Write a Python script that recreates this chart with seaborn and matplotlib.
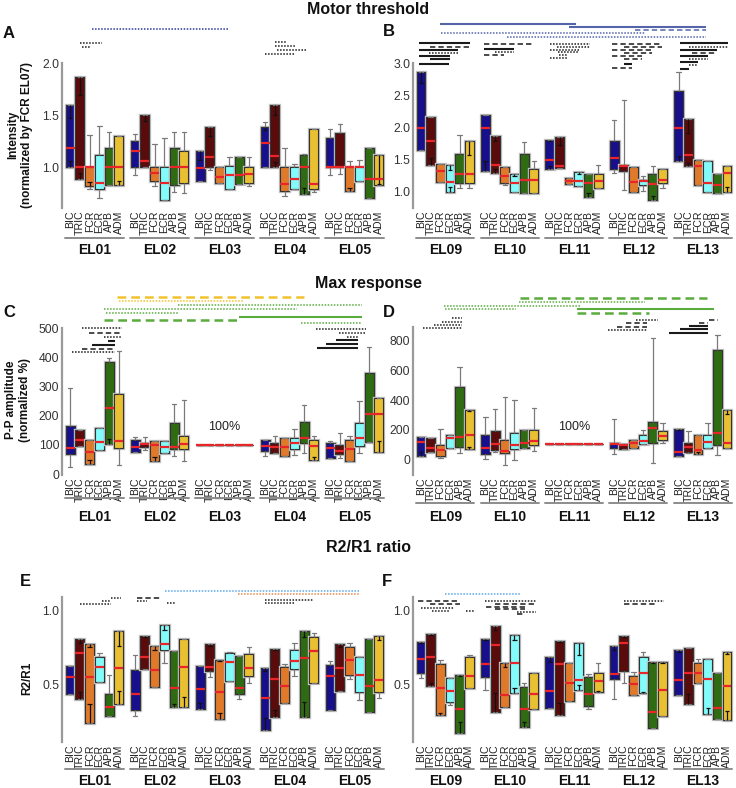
import numpy as np
import pandas as pd
import matplotlib.pyplot as plt
import matplotlib.patheffects as pe
import seaborn as sns

sns.set_style("white")
plt.rcParams['font.family'] = ['Liberation Sans', 'DejaVu Sans']

muscles = ['BIC', 'TRIC', 'FCR', 'ECR', 'APB', 'ADM']
palette = ['#170f8c', '#5a0b0b', '#e07a2a', '#84fbfb', '#2f6b12', '#e9c032']
left_groups = ['EL01', 'EL02', 'EL03', 'EL04', 'EL05']
right_groups = ['EL09', 'EL10', 'EL11', 'EL12', 'EL13']
nan = np.nan

# box stats per electrode / muscle: (low whisker, q1, median, q3, high whisker)
A_box = [
    [(1.0, 1.0, 1.19, 1.6, 1.6), (0.89, 0.89, 1.0, 1.87, 1.87), (0.79, 0.82, 1.0, 1.0, 1.31),
     (0.71, 0.79, 0.85, 1.12, 1.40), (0.83, 0.83, 1.0, 1.19, 1.34), (0.83, 0.83, 1.0, 1.30, 1.30)],
    [(0.93, 1.0, 1.16, 1.25, 1.32), (1.0, 1.0, 1.065, 1.5, 1.5), (0.82, 0.87, 0.945, 1.0, 1.23),
     (0.69, 0.69, 0.85, 1.0, 1.28), (0.76, 0.83, 1.0, 1.19, 1.34), (0.75, 0.85, 1.0, 1.16, 1.34)],
    [(0.87, 0.87, 0.99, 1.16, 1.16), (0.98, 1.0, 1.10, 1.39, 1.39), (0.855, 0.855, 0.91, 1.0, 1.0),
     (0.79, 0.79, 0.925, 1.015, 1.10), (0.84, 0.84, 0.925, 1.10, 1.10), (0.82, 0.85, 0.935, 1.0, 1.10)],
    [(1.0, 1.0, 1.235, 1.39, 1.44), (1.0, 1.0, 1.11, 1.60, 1.60), (0.73, 0.775, 0.84, 1.0, 1.19),
     (0.79, 0.79, 0.89, 1.0, 1.03), (0.74, 0.74, 1.0, 1.12, 1.13), (0.765, 0.79, 0.84, 1.37, 1.37)],
    [(0.93, 1.0, 1.0, 1.28, 1.365), (0.94, 1.0, 1.0, 1.33, 1.42), (0.775, 0.775, 1.0, 1.0, 1.06),
     (0.865, 0.865, 1.0, 1.0, 1.07), (0.71, 0.71, 0.89, 1.19, 1.19), (0.83, 0.83, 0.89, 1.12, 1.12)],
]
B_box = [
    [(1.656, 1.656, 1.99, 2.855, 2.855), (1.419, 1.419, 1.796, 2.158, 2.158), (1.155, 1.155, 1.33, 1.434, 1.434),
     (1.0, 1.0, 1.155, 1.413, 1.413), (1.06, 1.14, 1.28, 1.589, 1.889), (1.06, 1.14, 1.28, 1.786, 1.786)],
    [(1.32, 1.32, 1.99, 2.19, 2.19), (1.295, 1.295, 1.42, 1.863, 1.863), (1.10, 1.14, 1.243, 1.38, 1.38),
     (1.0, 1.0, 1.14, 1.28, 1.28), (0.985, 0.985, 1.19, 1.589, 1.77), (0.985, 0.985, 1.19, 1.357, 1.475)],
    [(1.36, 1.36, 1.50, 1.80, 1.80), (1.37, 1.37, 1.40, 1.848, 1.848), (1.124, 1.124, 1.176, 1.217, 1.217),
     (1.088, 1.088, 1.176, 1.305, 1.305), (0.917, 0.917, 1.14, 1.28, 1.28), (1.06, 1.06, 1.176, 1.27, 1.42)],
    [(1.295, 1.36, 1.527, 1.786, 2.12), (1.036, 1.33, 1.40, 1.413, 2.43), (1.0, 1.0, 1.155, 1.39, 1.39),
     (1.02, 1.10, 1.165, 1.18, 1.24), (0.88, 0.88, 1.124, 1.28, 1.40), (1.06, 1.14, 1.19, 1.357, 1.357)],
    [(1.486, 1.486, 1.99, 2.57, 2.86), (1.40, 1.40, 1.568, 2.13, 2.13), (1.10, 1.10, 1.40, 1.49, 1.49),
     (1.0, 1.0, 1.14, 1.486, 1.486), (0.985, 0.985, 1.10, 1.28, 1.28), (1.0, 1.0, 1.295, 1.40, 1.40)],
]
C_box = [
    [(23, 69, 90, 165, 294), (97, 97, 117, 151, 151), (34, 34, 77, 117, 117),
     (82, 82, 109, 157, 159), (103, 103, 225, 383, 397), (31, 88, 113, 273, 423)],
    [(77, 77, 94, 117, 128), (82, 94, 104, 108, 126), (46, 46, 100, 113, 113),
     (71, 71, 92, 114, 114), (62, 85, 94, 176, 239), (45, 86, 103, 130, 254)],
    [(100, 100, 100, 100, 100)] * 6,
    [(62, 79, 97, 117, 117), (71, 71, 92, 105, 130), (62, 62, 94, 122, 122),
     (65, 86, 105, 122, 153), (71, 105, 125, 177, 237), (50, 50, 97, 117, 130)],
    [(56, 56, 88, 105, 114), (54, 69, 80, 100, 140), (45, 45, 86, 117, 132),
     (74, 96, 122, 176, 251), (109, 109, 206, 345, 435), (77, 77, 205, 262, 262)],
]
D_box = [
    [(20, 20, 116, 150, 150), (48, 48, 77, 145, 145), (7, 18, 59, 97, 202),
     (77, 77, 143, 165, 165), (41, 82, 150, 489, 625), (70, 70, 161, 331, 331)],
    [(2, 36, 75, 161, 286), (48, 63, 104, 190, 342), (-39, 41, 54, 127, 421),
     (-9, 70, 93, 179, 399), (77, 77, 111, 199, 199), (54, 93, 122, 195, 347)],
    [(100, 100, 100, 100, 100)] * 6,
    [(36, 77, 100, 111, 274), (70, 70, 97, 100, 100), (77, 77, 109, 127, 127),
     (100, 100, 122, 165, 195), (-27, 109, 211, 252, 818), (109, 127, 156, 188, 247)],
    [(20, 20, 48, 206, 206), (43, 48, 82, 109, 188), (36, 36, 63, 165, 165),
     (77, 77, 116, 161, 247), (29, 97, 179, 739, 841), (75, 75, 111, 331, 331)],
]
E_box = [
    [(0.432, 0.432, 0.545, 0.624, 0.624), (0.399, 0.399, 0.707, 0.802, 0.802), (0.234, 0.234, 0.545, 0.768, 0.768),
     (0.511, 0.511, 0.617, 0.685, 0.707), (0.284, 0.284, 0.347, 0.432, 0.561), (0.363, 0.363, 0.610, 0.858, 0.858)],
    [(0.284, 0.324, 0.430, 0.595, 0.696), (0.599, 0.599, 0.680, 0.827, 0.827), (0.482, 0.482, 0.595, 0.759, 0.759),
     (0.644, 0.730, 0.768, 0.899, 0.899), (0.342, 0.342, 0.471, 0.725, 0.725), (0.342, 0.342, 0.617, 0.802, 0.802)],
    [(0.329, 0.329, 0.466, 0.624, 0.624), (0.55, 0.590, 0.617, 0.768, 0.768), (0.264, 0.264, 0.444, 0.662, 0.662),
     (0.522, 0.522, 0.651, 0.712, 0.718), (0.396, 0.430, 0.471, 0.691, 0.691), (0.504, 0.556, 0.606, 0.700, 0.752)],
    [(0.189, 0.189, 0.403, 0.610, 0.610), (0.275, 0.275, 0.532, 0.734, 0.734), (0.369, 0.369, 0.489, 0.617, 0.633),
     (0.554, 0.601, 0.655, 0.730, 0.775), (0.275, 0.275, 0.673, 0.858, 0.858), (0.505, 0.505, 0.725, 0.815, 0.842)],
    [(0.324, 0.324, 0.554, 0.628, 0.658), (0.455, 0.455, 0.606, 0.768, 0.768), (0.532, 0.561, 0.662, 0.748, 0.775),
     (0.392, 0.444, 0.561, 0.685, 0.685), (0.313, 0.313, 0.489, 0.802, 0.802), (0.408, 0.448, 0.527, 0.824, 0.824)],
]
F_box = [
    [(0.538, 0.572, 0.669, 0.782, 0.782), (0.486, 0.486, 0.685, 0.836, 0.836), (0.291, 0.291, 0.475, 0.635, 0.662),
     (0.358, 0.381, 0.453, 0.538, 0.538), (0.167, 0.167, 0.331, 0.561, 0.561), (0.475, 0.475, 0.556, 0.685, 0.696)],
    [(0.459, 0.550, 0.635, 0.804, 0.804), (0.313, 0.313, 0.764, 0.892, 0.892), (0.347, 0.347, 0.426, 0.644, 0.644),
     (0.437, 0.437, 0.644, 0.831, 0.831), (0.212, 0.212, 0.331, 0.482, 0.505), (0.331, 0.331, 0.432, 0.577, 0.577)],
    [(0.340, 0.340, 0.455, 0.680, 0.680), (0.291, 0.291, 0.633, 0.793, 0.793), (0.385, 0.385, 0.509, 0.644, 0.644),
     (0.459, 0.459, 0.527, 0.779, 0.779), (0.331, 0.354, 0.432, 0.545, 0.565), (0.444, 0.444, 0.523, 0.577, 0.644)],
    [(0.399, 0.532, 0.568, 0.759, 0.759), (0.505, 0.590, 0.779, 0.824, 0.824), (0.426, 0.426, 0.5, 0.554, 0.579),
     (0.437, 0.437, 0.577, 0.680, 0.714), (0.205, 0.205, 0.313, 0.651, 0.651), (0.284, 0.284, 0.459, 0.646, 0.646)],
    [(0.426, 0.426, 0.527, 0.730, 0.730), (0.365, 0.365, 0.577, 0.745, 0.745), (0.505, 0.505, 0.572, 0.640, 0.667),
     (0.295, 0.295, 0.532, 0.669, 0.669), (0.264, 0.264, 0.336, 0.572, 0.572), (0.257, 0.257, 0.489, 0.714, 0.714)],
]

# inner black error marks: (lower cap, upper cap), nan = none
A_inner = [
    [(1.06, 1.48), (0.95, 1.70), (0.86, nan), (nan, nan), (nan, nan), (0.87, nan)],
    [(nan, nan), (nan, 1.45), (nan, nan), (nan, nan), (nan, nan), (nan, nan)],
    [(nan, 1.07), (nan, 1.30), (nan, nan), (nan, nan), (nan, nan), (nan, nan)],
    [(nan, 1.36), (1.05, 1.50), (nan, nan), (nan, nan), (0.80, nan), (nan, nan)],
    [(nan, nan), (nan, nan), (0.80, nan), (nan, nan), (nan, nan), (nan, 0.84)],
]
B_inner = [
    [(nan, 2.69), (1.527, nan), (nan, nan), (1.07, 1.346), (nan, nan), (nan, 1.58)],
    [(1.475, nan), (1.35, 1.79), (nan, nan), (nan, 1.24), (nan, nan), (nan, nan)],
    [(1.40, 1.785), (nan, 1.73), (nan, nan), (nan, 1.28), (0.985, nan), (nan, nan)],
    [(nan, nan), (nan, nan), (nan, nan), (nan, nan), (0.93, nan), (nan, nan)],
    [(1.553, nan), (1.45, 1.915), (nan, nan), (nan, nan), (nan, nan), (1.07, nan)],
]
C_inner = [
    [(nan, nan), (nan, nan), (48, nan), (nan, nan), (119, nan), (nan, nan)],
    [(nan, nan), (nan, nan), (59, nan), (nan, nan), (nan, nan), (nan, nan)],
    [(nan, nan)] * 6,
    [(nan, nan), (nan, nan), (nan, nan), (nan, nan), (nan, nan), (59, nan)],
    [(nan, nan), (nan, nan), (nan, nan), (nan, nan), (nan, nan), (113, nan)],
]
D_inner = [
    [(48, nan), (nan, nan), (nan, nan), (nan, nan), (nan, nan), (85, 326)],
    [(nan, nan)] * 6,
    [(nan, nan)] * 6,
    [(nan, nan)] * 6,
    [(nan, 200), (nan, nan), (48, nan), (nan, nan), (nan, nan), (nan, 304)],
]
E_inner = [
    [(nan, nan), (0.448, 0.775), (0.363, 0.75), (nan, nan), (nan, nan), (0.455, 0.757)],
    [(nan, nan), (nan, 0.82), (nan, 0.73), (nan, 0.865), (0.365, nan), (0.41, nan)],
    [(0.369, nan), (nan, 0.757), (0.306, 0.655), (nan, nan), (nan, nan), (nan, nan)],
    [(0.268, 0.588), (0.324, 0.73), (nan, nan), (nan, nan), (0.381, 0.82), (nan, nan)],
    [(nan, nan), (nan, 0.752), (nan, nan), (nan, nan), (nan, nan), (nan, 0.80)],
]
F_inner = [
    [(nan, 0.775), (0.505, 0.83), (0.306, nan), (nan, nan), (0.245, 0.555), (nan, nan)],
    [(nan, 0.80), (0.437, 0.865), (nan, 0.617), (0.471, 0.797), (0.245, nan), (nan, nan)],
    [(nan, 0.651), (0.369, 0.785), (nan, nan), (0.493, 0.696), (nan, nan), (0.452, nan)],
    [(nan, 0.73), (nan, 0.82), (nan, nan), (0.447, nan), (nan, 0.64), (nan, 0.64)],
    [(nan, 0.718), (0.432, nan), (nan, nan), (0.336, nan), (nan, nan), (0.320, 0.703)],
]

# significance bars: (x start, x end, y, style, colour)
A_sig = [(-0.035, 2.06, 2.33, ':', 'navy'), (-0.23, 0.11, 2.20, ':', 'k'), (-0.20, -0.06, 2.16, ':', 'k'),
         (2.78, 2.94, 2.21, ':', 'k'), (2.78, 3.09, 2.17, ':', 'k'), (2.80, 3.25, 2.13, ':', 'k'),
         (2.63, 3.09, 2.09, ':', 'k')]
B_sig = [(-0.08, 2.03, 3.60, '-', 'slate'), (1.93, 4.05, 3.56, '-', 'slate'), (2.95, 4.05, 3.51, '--', 'slate'),
         (-0.07, 3.10, 3.46, ':', 'slate'), (0.96, 4.05, 3.41, ':', 'slate'),
         (-0.40, 0.39, 3.31, '-', 'k'), (-0.23, 0.39, 3.25, '--', 'k'), (-0.40, 0.20, 3.20, '-', 'k'),
         (-0.25, 0.20, 3.15, ':', 'k'), (-0.40, 0.08, 3.11, '-', 'k'), (-0.23, 0.08, 3.06, '-', 'k'),
         (-0.40, 0.06, 2.99, '-', 'k'),
         (0.60, 1.38, 3.29, '--', 'k'), (0.60, 1.07, 3.21, '-', 'k'), (0.77, 1.07, 3.17, ':', 'k'),
         (0.60, 0.92, 3.12, '--', 'k'),
         (1.62, 2.25, 3.29, ':', 'k'), (1.73, 2.25, 3.25, ':', 'k'), (1.62, 2.07, 3.20, ':', 'k'),
         (1.75, 2.07, 3.17, ':', 'k'), (1.76, 1.91, 3.12, ':', 'k'), (1.63, 1.91, 3.08, ':', 'k'),
         (2.59, 3.36, 3.29, '--', 'k'), (2.77, 3.36, 3.25, '--', 'k'), (2.59, 3.21, 3.20, '--', 'k'),
         (2.77, 3.21, 3.15, '--', 'k'), (2.59, 3.05, 3.11, '--', 'k'), (2.77, 3.05, 3.06, '--', 'k'),
         (2.77, 2.90, 2.98, '-', 'k'), (2.59, 2.90, 2.93, '--', 'k'),
         (3.65, 4.39, 3.31, '-', 'k'), (3.79, 4.39, 3.25, ':', 'k'), (3.65, 4.22, 3.20, '-', 'k'),
         (3.84, 4.22, 3.15, '--', 'k'), (3.65, 4.08, 3.11, '-', 'k'), (3.79, 4.08, 3.06, ':', 'k'),
         (3.65, 3.93, 3.01, '-', 'k'), (3.79, 3.93, 2.97, ':', 'k'), (3.65, 3.79, 2.90, '-', 'k')]
C_sig = [(0.34, 3.23, 607, '--', 'gold'), (0.37, 2.29, 593, ':', 'gold'), (1.28, 4.12, 579, ':', 'green'),
         (0.15, 3.11, 565, ':', 'green'), (0.17, 1.29, 550, ':', 'green'), (2.22, 4.12, 539, '-', 'green'),
         (0.15, 2.25, 527, '--', 'green'), (3.18, 4.12, 517, ':', 'green'),
         (-0.19, 0.43, 499, ':', 'k'), (-0.08, 0.43, 484, '--', 'k'), (0.14, 0.43, 468, ':', 'k'),
         (0.21, 0.31, 454, '-', 'k'), (-0.04, 0.31, 442, '-', 'k'), (-0.20, 0.31, 430, '--', 'k'),
         (-0.34, 0.31, 418, ':', 'k'),
         (3.40, 4.18, 497, ':', 'k'), (3.76, 4.18, 484, ':', 'k'), (3.89, 4.05, 470, ':', 'k'),
         (3.72, 4.05, 459, '-', 'k'), (3.56, 4.05, 447, '-', 'k'), (3.42, 4.05, 433, '-', 'k')]
D_sig = [(1.16, 4.07, 1094, '--', 'green'), (1.15, 3.10, 1066, ':', 'green'), (-0.02, 2.11, 1039, ':', 'green'),
         (0.00, 1.10, 1015, ':', 'green'), (2.05, 4.18, 1017, '-', 'green'), (2.05, 3.17, 992, '--', 'green'),
         (0.10, 0.26, 958, ':', 'k'), (-0.05, 0.26, 931, ':', 'k'), (-0.18, 0.26, 908, ':', 'k'),
         (-0.35, 0.26, 886, ':', 'k'),
         (2.97, 3.30, 942, ':', 'k'), (2.80, 3.13, 920, '--', 'k'), (2.67, 3.13, 897, '--', 'k'),
         (2.53, 3.13, 875, ':', 'k'),
         (4.09, 4.24, 942, '--', 'k'), (3.94, 4.08, 920, '--', 'k'), (3.79, 4.08, 902, '-', 'k'),
         (3.64, 4.08, 879, '-', 'k'), (3.48, 4.08, 856, '-', 'k')]
E_sig = [(1.09, 4.09, 1.13, ':', 'sky'), (2.20, 4.09, 1.108, ':', 'orange'),
         (0.25, 0.41, 1.083, ':', 'k'), (0.12, 0.25, 1.06, ':', 'k'), (-0.22, 0.25, 1.038, ':', 'k'),
         (0.66, 1.04, 1.08, '--', 'k'), (0.65, 0.80, 1.06, ':', 'k'), (1.11, 1.25, 1.05, ':', 'k'),
         (2.62, 3.36, 1.068, ':', 'k'), (2.63, 3.09, 1.05, ':', 'k')]
F_sig = [(0.00, 1.16, 1.108, ':', 'sky'),
         (-0.43, 0.23, 1.06, '--', 'k'), (-0.23, 0.23, 1.038, '--', 'k'), (-0.38, 0.14, 1.015, ':', 'k'),
         (-0.20, 0.08, 0.993, ':', 'k'), (0.32, 0.47, 0.993, ':', 'k'),
         (0.62, 1.41, 1.06, ':', 'k'), (0.78, 1.41, 1.038, '--', 'k'), (0.64, 1.24, 1.022, '--', 'k'),
         (0.78, 1.24, 1.005, '--', 'k'), (1.11, 1.41, 0.99, ':', 'k'), (1.11, 1.24, 0.97, '--', 'k'),
         (2.77, 3.39, 1.06, ':', 'k'), (2.77, 3.28, 1.038, '--', 'k')]

sig_colors = {'k': '#1a1a1a', 'navy': '#2b3a9a', 'slate': '#5464a8', 'green': '#5aac3e',
              'gold': '#f2c22e', 'sky': '#5aa8ec', 'orange': '#e8884a'}
sig_styles = {':': (0, (1, 1)), '--': (0, (3.5, 2)), '-': '-'}

W = 0.9
GAP = 0.08
FIG_W, FIG_H = 736, 788


def long_frame(box, groups):
    rows = []
    for g, grp in enumerate(groups):
        for m, mus in enumerate(muscles):
            for v in box[g][m]:
                rows.append((grp, mus, v))
    return pd.DataFrame(rows, columns=['electrode', 'muscle', 'value'])


def panel(rect, box, inner, sig, groups, ylim, spine_top, ticks, fmt, label_px):
    ax = fig.add_axes(rect)
    df = long_frame(box, groups)
    sns.boxplot(data=df, x='electrode', y='value', hue='muscle', order=groups, hue_order=muscles,
                palette=palette, saturation=1, whis=(0, 100), width=W, gap=GAP, showfliers=False,
                linecolor='#333333', linewidth=0.8, legend=False, ax=ax,
                medianprops=dict(color='#e8262a', linewidth=1.6, zorder=6),
                whiskerprops=dict(color='#7a7a7a', linewidth=0.9),
                capprops=dict(color='#7a7a7a', linewidth=0.9))
    # soft grey halo round the boxes
    for p in ax.patches:
        p.set_path_effects([pe.withStroke(linewidth=2.4, foreground='#c4c4c4'), pe.Normal()])
    step = W / len(muscles)
    pos, labs = [], []
    for g in range(len(groups)):
        for m in range(len(muscles)):
            x = g + W * ((m + 0.5) / len(muscles) - 0.5)
            pos.append(x)
            labs.append(muscles[m])
            lo, hi = inner[g][m]
            q1, q3 = box[g][m][1], box[g][m][3]
            cw = step * 0.22
            if not np.isnan(lo):
                ax.vlines(x, q1, lo, color='#111111', lw=0.9, zorder=5)
                ax.hlines(lo, x - cw, x + cw, color='#111111', lw=0.9, zorder=5)
            if not np.isnan(hi):
                ax.vlines(x, q3, hi, color='#111111', lw=0.9, zorder=5)
                ax.hlines(hi, x - cw, x + cw, color='#111111', lw=0.9, zorder=5)
    for x0, x1, y, ls, c in sig:
        lw = 1.5 if ls == '-' else (1.8 if c in ('gold', 'green') and ls == '--' else 1.1)
        ax.plot([x0, x1], [y, y], color=sig_colors[c], linestyle=sig_styles[ls], lw=lw,
                clip_on=False, solid_capstyle='butt')
    ax.set_xlim(-0.5, len(groups) - 0.5)
    ax.set_ylim(*ylim)
    ax.set_xticks(pos, labels=labs, rotation=90, fontsize=7.6, color='#222222')
    ax.set_yticks(ticks, labels=[fmt.format(t) for t in ticks], fontsize=8.8, color='#333333')
    ax.tick_params(length=0, pad=2)
    ax.set_xlabel('')
    ax.set_ylabel('')
    for s in ['top', 'right', 'bottom']:
        ax.spines[s].set_visible(False)
    ax.spines['left'].set_color('#9a9a9a')
    ax.spines['left'].set_linewidth(1.6)
    ax.spines['left'].set_bounds(ylim[0], spine_top)
    ax.grid(False)
    h = ax.bbox.height
    line_y, text_y = label_px
    for g, grp in enumerate(groups):
        ax.plot([g - W / 2, g + W / 2], [-line_y / h, -line_y / h], color='#8c8c8c', lw=1.4,
                transform=ax.get_xaxis_transform(), clip_on=False)
        ax.text(g, -text_y / h, grp, transform=ax.get_xaxis_transform(), ha='center', va='center',
                fontsize=10, fontweight='bold', color='#111111')
    return ax


fig = plt.figure(figsize=(FIG_W / 100, FIG_H / 100), dpi=100)


def rect(left_px, right_px, top_px, bottom_px):
    return [left_px / FIG_W, 1 - bottom_px / FIG_H, (right_px - left_px) / FIG_W, (bottom_px - top_px) / FIG_H]


panel(rect(62, 387, 25, 208), A_box, A_inner, A_sig, left_groups, (0.61, 2.37), 2.0,
      [1.0, 1.5, 2.0], '{:.1f}', (30, 42))
panel(rect(413, 735, 25, 208), B_box, B_inner, B_sig, right_groups, (0.75, 3.59), 3.0,
      [1.0, 1.5, 2.0, 2.5, 3.0], '{:.1f}', (30, 42))
axC = panel(rect(62, 387, 293, 475), C_box, C_inner, C_sig, left_groups, (-3, 620), 500,
            [0, 100, 200, 300, 400, 500], '{:.0f}', (23, 42))
axD = panel(rect(413, 735, 293, 475), D_box, D_inner, D_sig, right_groups, (-108, 1125), 895,
            [0, 200, 400, 600, 800], '{:.0f}', (28, 42))
panel(rect(62, 387, 588, 742), E_box, E_inner, E_sig, left_groups, (0.108, 1.149), 1.09,
      [0.5, 1.0], '{:.1f}', (27, 39))
panel(rect(413, 735, 588, 742), F_box, F_inner, F_sig, right_groups, (0.108, 1.149), 1.09,
      [0.5, 1.0], '{:.1f}', (27, 39))

axC.text(2, 140, '100%', ha='center', va='bottom', fontsize=9, color='#222222')
axD.text(2, 176, '100%', ha='center', va='bottom', fontsize=9, color='#222222')

title_kw = dict(ha='center', va='center', fontsize=11.5, fontweight='bold', color='#111111')
fig.text(368 / FIG_W, 1 - 9 / FIG_H, 'Motor threshold', **title_kw)
fig.text(368 / FIG_W, 1 - 283 / FIG_H, 'Max response', **title_kw)
fig.text(368 / FIG_W, 1 - 548 / FIG_H, 'R2/R1 ratio', **title_kw)

letter_kw = dict(ha='left', va='center', fontsize=12, fontweight='bold', color='#111111')
for letter, (x, y) in zip('ABCDEF', [(3, 33), (383, 32), (3, 312), (383, 312), (20, 582), (382, 582)]):
    fig.text(x / FIG_W, 1 - y / FIG_H, letter, **letter_kw)

ylab_kw = dict(ha='center', va='center', rotation=90, fontsize=8.5, fontweight='bold',
               multialignment='center', color='#111111')
fig.text(20 / FIG_W, 1 - 135 / FIG_H, 'Intensity\n(normalized by FCR EL07)', **ylab_kw)
fig.text(18 / FIG_W, 1 - 400 / FIG_H, 'P-P amplitude\n(normalized %)', **ylab_kw)
fig.text(27 / FIG_W, 1 - 678 / FIG_H, 'R2/R1', **ylab_kw)

fig.savefig('out.png', dpi=100)
